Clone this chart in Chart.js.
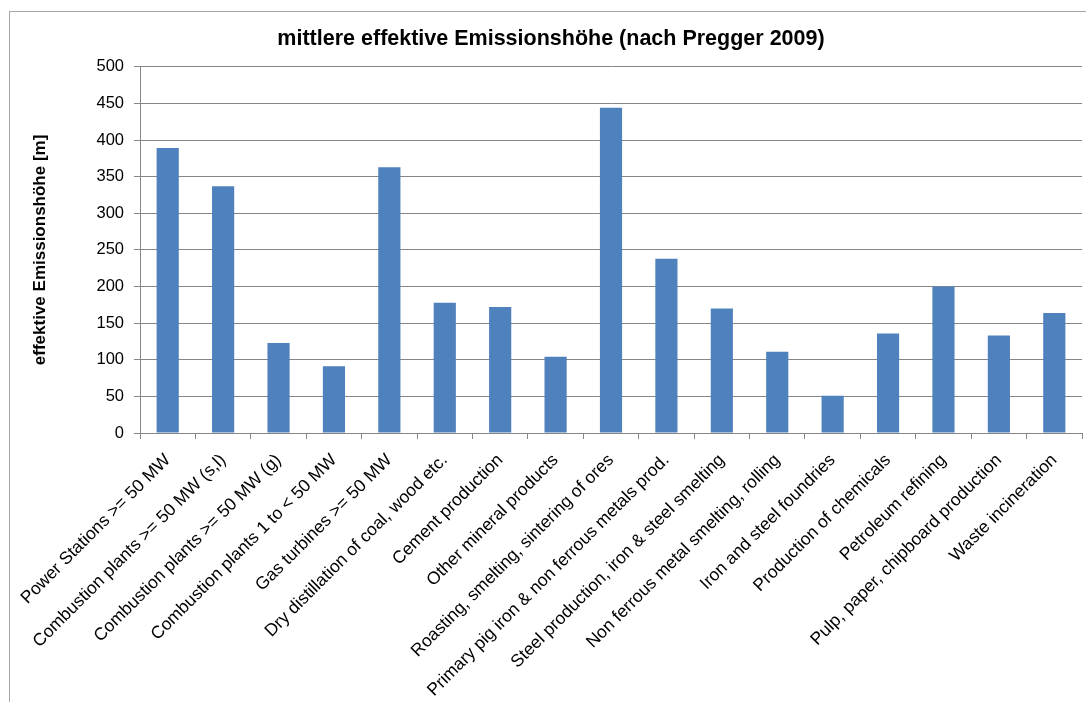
<!DOCTYPE html>
<html>
<head>
<meta charset="utf-8">
<script src="https://cdn.jsdelivr.net/npm/chart.js@4"></script>
<style>
  body { margin: 0; background: #fff; }
  #rahmen { position: absolute; left: 9px; top: 11px; width: 1077px; height: 691px;
            border-left: 1px solid #a6a6a6; border-top: 1px solid #a6a6a6; pointer-events: none; }
</style>
</head>
<body>
<canvas id="grafico" width="1086" height="702"></canvas>
<div id="rahmen"></div>
<script>
// Quellgruppen (Kategorien)
const kategorien = [
    "Power Stations >= 50 MW",
    "Combustion plants >= 50 MW (s,l)",
    "Combustion plants >= 50 MW (g)",
    "Combustion plants 1 to < 50 MW",
    "Gas turbines >= 50 MW",
    "Dry distillation of coal, wood etc.",
    "Cement production",
    "Other mineral products",
    "Roasting, smelting, sintering of ores",
    "Primary pig iron & non ferrous metals prod.",
    "Steel production, iron & steel smelting",
    "Non ferrous metal smelting, rolling",
    "Iron and steel foundries",
    "Production of chemicals",
    "Petroleum refining",
    "Pulp, paper, chipboard production",
    "Waste incineration"
];

// effektive Emissionshoehe in m
const hoehen = [389, 337, 123, 91, 363, 178, 172, 104, 444, 238, 170, 111, 51, 136, 200, 133, 164];

// Achse
const yMin = 0;
const yMax = 500;
const ySchritt = 50;

const titel = "mittlere effektive Emissionshöhe (nach Pregger 2009)";
const yTitel = "effektive Emissionshöhe [m]";

const schrift = "'Liberation Sans', Arial, sans-serif";
const grau = "#868686";

let g = document.getElementById('grafico').getContext('2d');

let graficoChart = new Chart(g, {
    type: 'bar',
    data: {
        labels: kategorien,
        datasets: [{
            label: yTitel,
            data: hoehen,
            backgroundColor: '#4F81BD',
            borderWidth: 0,
            categoryPercentage: 1,
            barPercentage: 0.4
        }]
    },
    options: {
        responsive: false,
        animation: false,
        layout: {
            padding: { left: 20, right: 4, top: 0, bottom: 0 }
        },
        plugins: {
            legend: { display: false },
            tooltip: { enabled: false },
            title: {
                display: true,
                text: titel,
                color: '#000',
                font: { family: schrift, size: 21.5, weight: 'bold' },
                padding: { top: 26, bottom: 15 }
            }
        },
        scales: {
            x: {
                grid: {
                    display: true,
                    drawOnChartArea: false,
                    drawTicks: true,
                    tickLength: 6,
                    color: grau,
                    offset: true
                },
                border: { color: grau, width: 1 },
                ticks: {
                    autoSkip: false,
                    maxRotation: 45,
                    minRotation: 45,
                    padding: 11,
                    color: '#000',
                    font: { family: schrift, size: 17.5 }
                },
                afterFit: function(scale) {
                    scale.height = 269;
                }
            },
            y: {
                min: yMin,
                max: yMax,
                ticks: {
                    stepSize: ySchritt,
                    padding: 10,
                    color: '#000',
                    font: { family: schrift, size: 16.5 }
                },
                grid: {
                    color: grau,
                    lineWidth: 1,
                    tickLength: 6
                },
                border: { color: grau, width: 1 },
                title: {
                    display: true,
                    text: yTitel,
                    color: '#000',
                    font: { family: schrift, size: 17, weight: 'bold' },
                    padding: { top: 10, bottom: 0 }
                },
                afterFit: function(scale) {
                    scale.width = 120;
                }
            }
        }
    }
});
</script>
</body>
</html>
